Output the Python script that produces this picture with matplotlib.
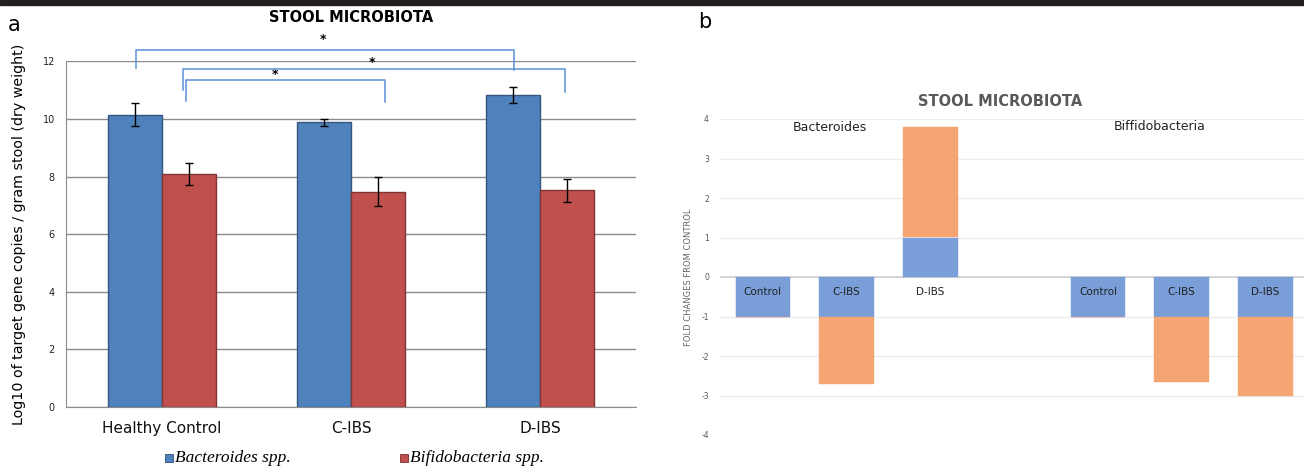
import matplotlib
matplotlib.use("Agg")
import matplotlib.pyplot as plt
from matplotlib.patches import Rectangle
import numpy as np

# ---------------- Panel a data ----------------
groups_a = ["Healthy Control", "C-IBS", "D-IBS"]
bacteroides_a = [10.15, 9.88, 10.82]
bacteroides_err = [0.40, 0.12, 0.28]
bifido_a = [8.10, 7.48, 7.52]
bifido_err = [0.38, 0.50, 0.40]
yticks_a = [0, 2, 4, 6, 8, 10, 12]
legend_a = ["Bacteroides spp.", "Bifidobacteria spp."]

# ---------------- Panel b data ----------------
labels_b = ["Control", "C-IBS", "D-IBS", "Control", "C-IBS", "D-IBS"]
positions_b = [0, 1, 2, 4, 5, 6]
blue_b = [-1, -1, 1, -1, -1, -1]
orange_b = [0, -1.70, 2.80, 0, -1.65, -2.0]
yticks_b = [-4, -3, -2, -1, 0, 1, 2, 3, 4]

W, H = 1304, 470
fig = plt.figure(figsize=(W / 100, H / 100), dpi=100)
fig.patches.append(Rectangle((0, 1 - 5 / H), 1, 5 / H, transform=fig.transFigure,
                             color="#231f20", zorder=10))

# ================= Panel a =================
ax = fig.add_axes([66 / W, 1 - 407 / H, 570 / W, (407 - 61.4) / H])
blue_c = "#4f81bd"
red_c = "#c0504d"
x = np.arange(len(groups_a))
bw = 0.285
off = 0.145
ax.bar(x - off, bacteroides_a, bw, color=blue_c, edgecolor="#34557e", linewidth=1.0, zorder=3)
ax.bar(x + off, bifido_a, bw, color=red_c, edgecolor="#823634", linewidth=1.0, zorder=3)
ax.errorbar(x - off, bacteroides_a, yerr=bacteroides_err, fmt="none", ecolor="black",
            elinewidth=1.0, capsize=3, capthick=1.0, zorder=4)
ax.errorbar(x + off, bifido_a, yerr=bifido_err, fmt="none", ecolor="black",
            elinewidth=1.0, capsize=3, capthick=1.0, zorder=4)
ax.set_xlim(-0.508, 2.508)
ax.set_ylim(0, 12)
ax.set_yticks(yticks_a)
ax.yaxis.grid(True, color="#8c8c8c", linewidth=1.0, zorder=0)
ax.set_axisbelow(True)
for s in ["top", "right"]:
    ax.spines[s].set_visible(False)
ax.spines["left"].set_color("#8c8c8c")
ax.spines["bottom"].set_color("#8c8c8c")
ax.tick_params(axis="y", labelsize=7, length=0, pad=8, colors="#222222")
ax.tick_params(axis="x", length=0, pad=10)
ax.set_xticks(x)
ax.set_xticklabels(groups_a, fontsize=11, color="#111111")
ax.set_ylabel("Log10 of target gene copies / gram stool (dry weight)", fontsize=10.3, labelpad=12)
ax.text(0.5, 1.0 + (61.4 - 18) / 345.6, "STOOL MICROBIOTA", transform=ax.transAxes,
        ha="center", va="center", fontsize=10.5, fontweight="bold")
fig.text(14 / W, 1 - 25 / H, "a", fontsize=15, ha="center", va="center")

# significance brackets
br_c = "#5b8fd6"
def bracket(x1, x2, ytop, yl, yr, star_x, star_y):
    ax.plot([x1, x1, x2, x2], [yl, ytop, ytop, yr], color=br_c, lw=1.1, clip_on=False, zorder=5)
    ax.text(star_x, star_y, "*", ha="center", va="center", fontsize=9, fontweight="bold",
            clip_on=False)

bracket(-0.138, 1.862, 12.40, 11.77, 11.70, 0.85, 12.76)
bracket(0.111, 2.132, 11.74, 11.00, 10.94, 1.11, 11.97)
bracket(0.127, 1.18, 11.35, 10.62, 10.59, 0.60, 11.56)

# legend (manual, under axis)
for i, (lab, c, ec) in enumerate(zip(legend_a, [blue_c, red_c], ["#2c4d75", "#7a2e2c"])):
    lx = [165, 400][i]
    fig.patches.append(Rectangle((lx / W, 1 - 462 / H), 8 / W, 8 / H, transform=fig.transFigure,
                                 facecolor=c, edgecolor=ec, linewidth=0.6))
    fig.text((lx + 10) / W, 1 - 458 / H, lab, fontsize=12.5, family="Liberation Serif",
             style="italic", va="center", ha="left")

# ================= Panel b =================
bx = fig.add_axes([720 / W, 1 - 435 / H, (W - 720) / W, (435 - 119) / H])
blue_b_c = "#7a9ed8"
orange_b_c = "#f4a572"
bbw = 0.65
bx.bar(positions_b, blue_b, bbw, color=blue_b_c, edgecolor=blue_b_c, linewidth=0.3, zorder=3)
bx.bar(positions_b, orange_b, bbw, bottom=blue_b, color=orange_b_c, edgecolor=orange_b_c,
       linewidth=0.3, zorder=3)
bx.set_xlim(-0.51, 6.46)
bx.set_ylim(-4, 4)
bx.set_yticks(yticks_b)
bx.set_yticklabels([str(v) for v in yticks_b])
bx.yaxis.grid(True, color="#ececec", linewidth=1.0, zorder=0)
bx.axhline(0, color="#d0d0d0", linewidth=1.2, zorder=2)
for s in bx.spines.values():
    s.set_visible(False)
bx.set_xticks([])
bx.tick_params(axis="y", labelsize=5.5, length=0, pad=8, colors="#555555")
bx.set_ylabel("FOLD CHANGES FROM CONTROL", fontsize=6, color="#666666", labelpad=6)
for p, lab in zip(positions_b, labels_b):
    bx.text(p, -0.38, lab, ha="center", va="center", fontsize=7.5, color="#222222", zorder=5)
bx.text(0.8, 3.78, "Bacteroides", ha="center", va="center", fontsize=9, color="#222222")
bx.text(4.74, 3.8, "Biffidobacteria", ha="center", va="center", fontsize=9, color="#222222")
fig.text(1000 / W, 1 - 101 / H, "STOOL MICROBIOTA", fontsize=10.5, fontweight="bold",
         color="#595959", ha="center", va="center")
fig.text(705 / W, 1 - 22 / H, "b", fontsize=15, ha="center", va="center")

fig.savefig("out.png", dpi=100)
